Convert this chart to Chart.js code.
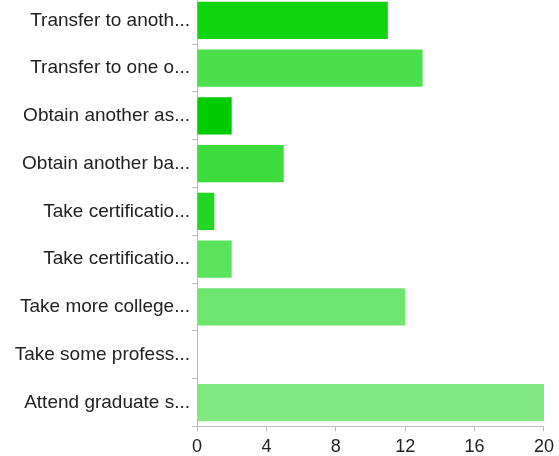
<!DOCTYPE html>
<html>
<head>
<meta charset="utf-8">
<script src="https://cdn.jsdelivr.net/npm/chart.js@4/dist/chart.umd.min.js"></script>
<style>
    html, body { margin: 0; padding: 0; background: #fff; overflow: hidden; }
    #wrap { position: absolute; left: 0; top: -17px; width: 559px; height: 480px; }
</style>
</head>
<body>
<div id="wrap"><canvas id="planChart"></canvas></div>
<script>
const categories = [
    'Transfer to anoth...',
    'Transfer to one o...',
    'Obtain another as...',
    'Obtain another ba...',
    'Take certificatio...',
    'Take certificatio...',
    'Take more college...',
    'Take some profess...',
    'Attend graduate s...'
];
const counts = [11, 13, 2, 5, 1, 2, 12, 0, 20];
const barColors = ['#11d411', '#4be04b', '#00cc00', '#3bdc3b', '#22d622', '#5be35b', '#6ee56e', '#77e677', '#82e882'];
const xTicks = [0, 4, 8, 12, 16, 20];

const ctx = document.getElementById('planChart').getContext('2d');
const planChart = new Chart(ctx, {
    type: 'bar',
    data: {
        labels: categories,
        datasets: [{
            data: counts,
            backgroundColor: barColors,
            borderWidth: 0,
            categoryPercentage: 0.78,
            barPercentage: 1.0
        }]
    },
    options: {
        indexAxis: 'y',
        responsive: true,
        maintainAspectRatio: false,
        animation: false,
        layout: { padding: { top: 0, right: 6, bottom: 0, left: 0 } },
        plugins: {
            legend: { display: false },
            tooltip: { enabled: false }
        },
        scales: {
            x: {
                min: 0,
                max: 20,
                afterBuildTicks: function (scale) {
                    scale.ticks = xTicks.map(function (v) { return { value: v }; });
                },
                grid: { drawOnChartArea: false, drawTicks: true, tickLength: 5, color: '#bbbbbb' },
                border: { color: '#bbbbbb', width: 1 },
                ticks: {
                    color: '#222222',
                    padding: 5,
                    maxRotation: 0,
                    font: { family: 'Liberation Sans, Arial, sans-serif', size: 18 }
                }
            },
            y: {
                afterFit: function (scale) { scale.width = 197; },
                grid: { drawOnChartArea: false, drawTicks: true, tickLength: 5, color: '#bbbbbb' },
                border: { color: '#bbbbbb', width: 1 },
                ticks: {
                    color: '#222222',
                    padding: 2,
                    font: { family: 'Liberation Sans, Arial, sans-serif', size: 19 }
                }
            }
        }
    }
});
</script>
</body>
</html>
